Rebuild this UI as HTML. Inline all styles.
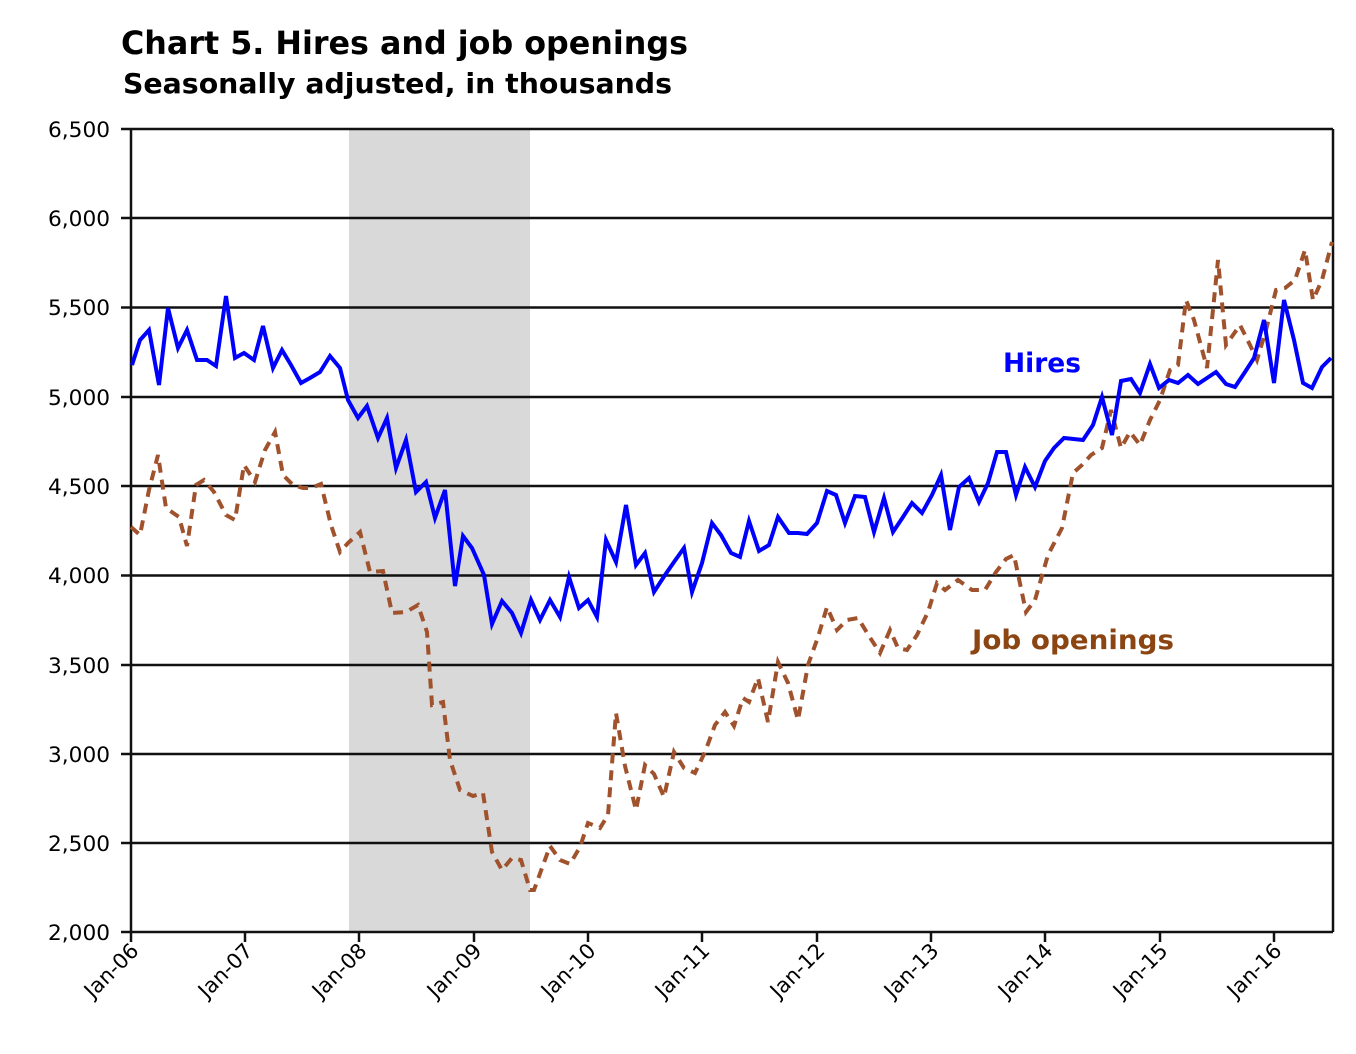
<!DOCTYPE html>
<html><head><style>body{margin:0;background:#fff}svg{display:block}</style></head><body>
<svg width="1356" height="1054" viewBox="0 0 1356 1054" xmlns="http://www.w3.org/2000/svg">
<rect width="1356" height="1054" fill="#fff"/>
<text x="121" y="54" font-family="DejaVu Sans, sans-serif" font-weight="bold" font-size="32" textLength="567" lengthAdjust="spacingAndGlyphs">Chart 5. Hires and job openings</text>
<text x="123" y="93" font-family="DejaVu Sans, sans-serif" font-weight="bold" font-size="28" textLength="549" lengthAdjust="spacingAndGlyphs">Seasonally adjusted, in thousands</text>
<rect x="349" y="129" width="181" height="803" fill="#d9d9d9"/>
<g stroke="#111" stroke-width="2.5">
<line x1="121" y1="129" x2="1333" y2="129"/><line x1="121" y1="218" x2="1333" y2="218"/><line x1="121" y1="307.5" x2="1333" y2="307.5"/><line x1="121" y1="397" x2="1333" y2="397"/><line x1="121" y1="486" x2="1333" y2="486"/><line x1="121" y1="575.5" x2="1333" y2="575.5"/><line x1="121" y1="665" x2="1333" y2="665"/><line x1="121" y1="754" x2="1333" y2="754"/><line x1="121" y1="843" x2="1333" y2="843"/><line x1="121" y1="932" x2="1333" y2="932"/>
<line x1="131" y1="129" x2="131" y2="942"/><line x1="1333" y1="129" x2="1333" y2="932"/>
<line x1="245" y1="932" x2="245" y2="942"/><line x1="359" y1="932" x2="359" y2="942"/><line x1="474" y1="932" x2="474" y2="942"/><line x1="588" y1="932" x2="588" y2="942"/><line x1="702" y1="932" x2="702" y2="942"/><line x1="817" y1="932" x2="817" y2="942"/><line x1="931" y1="932" x2="931" y2="942"/><line x1="1045" y1="932" x2="1045" y2="942"/><line x1="1160" y1="932" x2="1160" y2="942"/><line x1="1274" y1="932" x2="1274" y2="942"/>
</g>
<g font-family="DejaVu Sans, sans-serif" font-size="21" text-anchor="end">
<text x="110" y="137" textLength="62" lengthAdjust="spacingAndGlyphs">6,500</text><text x="110" y="226" textLength="62" lengthAdjust="spacingAndGlyphs">6,000</text><text x="110" y="315" textLength="62" lengthAdjust="spacingAndGlyphs">5,500</text><text x="110" y="405" textLength="62" lengthAdjust="spacingAndGlyphs">5,000</text><text x="110" y="494" textLength="62" lengthAdjust="spacingAndGlyphs">4,500</text><text x="110" y="583" textLength="62" lengthAdjust="spacingAndGlyphs">4,000</text><text x="110" y="673" textLength="62" lengthAdjust="spacingAndGlyphs">3,500</text><text x="110" y="762" textLength="62" lengthAdjust="spacingAndGlyphs">3,000</text><text x="110" y="851" textLength="62" lengthAdjust="spacingAndGlyphs">2,500</text><text x="110" y="940" textLength="62" lengthAdjust="spacingAndGlyphs">2,000</text>
</g>
<g font-family="DejaVu Sans, sans-serif" font-size="21" text-anchor="end">
<text transform="translate(140,952) rotate(-45)">Jan-06</text><text transform="translate(254,952) rotate(-45)">Jan-07</text><text transform="translate(368,952) rotate(-45)">Jan-08</text><text transform="translate(483,952) rotate(-45)">Jan-09</text><text transform="translate(597,952) rotate(-45)">Jan-10</text><text transform="translate(711,952) rotate(-45)">Jan-11</text><text transform="translate(826,952) rotate(-45)">Jan-12</text><text transform="translate(940,952) rotate(-45)">Jan-13</text><text transform="translate(1054,952) rotate(-45)">Jan-14</text><text transform="translate(1169,952) rotate(-45)">Jan-15</text><text transform="translate(1283,952) rotate(-45)">Jan-16</text>
</g>
<polyline fill="none" stroke="#a0522d" stroke-width="4" stroke-dasharray="10,7" points="131,527 140,535 149,490 158,455 166,508 179,517 187,546 196,485 204,480 214,492 226,515 235,520 244,465 255,482 265,450 275,432 283,475 293,485 303,488 311,488 321,484 331,525 340,552 348,543 360,532 370,572 383,571 392,613 406,612 418,605 427,632 432,705 443,702 450,760 460,790 473,796 483,793 492,852 502,870 512,858 521,860 530,890 534,890 550,846 560,860 570,864 580,847 588,823 600,828 608,815 616,713 625,766 636,810 645,765 654,774 664,797 674,752 684,768 695,773 705,752 715,725 725,712 734,726 743,698 749,702 758,678 768,722 778,662 788,683 798,720 808,665 818,637 827,607 837,630 847,620 858,618 869,636 880,653 890,630 898,648 907,650 917,635 928,612 937,583 945,590 958,580 972,590 985,590 996,572 1006,559 1014,555 1026,612 1035,600 1048,555 1062,528 1073,473 1082,465 1091,455 1102,448 1111,410 1121,448 1130,432 1140,445 1150,420 1160,400 1170,370 1178,365 1186,300 1194,320 1207,368 1214,300 1218,260 1226,345 1240,325 1250,345 1257,360 1266,330 1276,290 1285,288 1295,280 1305,250 1313,300 1322,280 1332,242"/>
<polyline fill="none" stroke="#0000ff" stroke-width="4" stroke-linejoin="miter" points="132,365 140,340 149,330 159,385 168,308 178,348 187,330 197,360 207,360 216,366 226,296 235,358 244,353 254,360 263,326 273,368 282,350 291,365 301,383 310,378 320,372 330,356 340,368 348,400 358,418 367,406 378,438 387,418 396,468 406,440 416,492 426,482 435,518 445,490 455,586 463,536 472,548 484,575 492,624 502,601 512,613 521,633 531,600 540,620 550,600 560,617 569,577 579,608 588,600 597,617 606,540 616,562 626,505 636,565 645,553 654,592 665,575 674,562 684,548 692,592 702,563 712,523 721,535 731,553 740,557 749,521 759,551 769,545 778,517 789,533 798,533 807,534 817,523 827,491 836,495 845,523 855,496 865,497 874,532 884,498 893,532 903,517 912,503 922,513 932,495 941,475 950,530 959,487 969,478 979,502 988,483 997,452 1006,452 1016,495 1025,467 1035,487 1045,461 1054,448 1064,438 1083,440 1093,425 1102,397 1112,435 1121,381 1131,379 1140,393 1150,364 1159,388 1169,380 1178,383 1188,375 1198,384 1207,378 1216,372 1226,384 1235,387 1245,372 1254,358 1264,320 1274,383 1284,300 1294,340 1303,383 1312,388 1322,367 1331,358"/>
<text x="1003" y="372" font-family="DejaVu Sans, sans-serif" font-weight="bold" font-size="27" fill="#0000ff" textLength="78" lengthAdjust="spacingAndGlyphs">Hires</text>
<text x="972" y="649" font-family="DejaVu Sans, sans-serif" font-weight="bold" font-size="27" fill="#8b4513" textLength="202" lengthAdjust="spacingAndGlyphs">Job openings</text>
</svg>
</body></html>
